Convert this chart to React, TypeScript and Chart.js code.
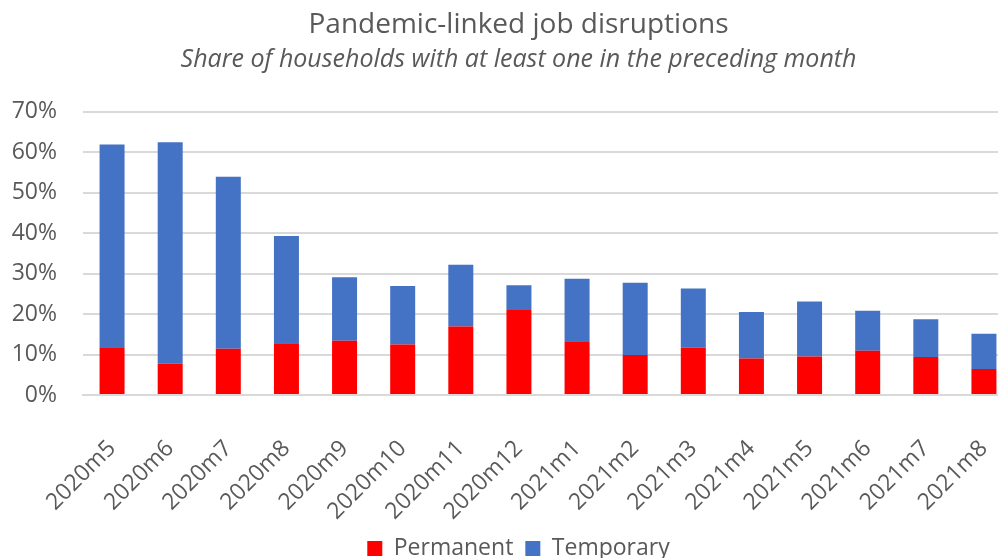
import React, { useEffect, useRef } from "react";
import { Chart, registerables } from "chart.js";

Chart.register(...registerables);

const categories = [
  "2020m5", "2020m6", "2020m7", "2020m8", "2020m9", "2020m10", "2020m11", "2020m12",
  "2021m1", "2021m2", "2021m3", "2021m4", "2021m5", "2021m6", "2021m7", "2021m8",
];

// Share of households (%) reporting a disruption, split by type
const permanent = [11.8, 7.7, 11.4, 12.8, 13.4, 12.5, 16.9, 21.0, 13.3, 9.9, 11.7, 9.0, 9.5, 10.9, 9.4, 6.4];
const temporary = [50.1, 54.7, 42.5, 26.5, 15.7, 14.4, 15.3, 6.1, 15.4, 17.8, 14.6, 11.5, 13.6, 9.9, 9.3, 8.7];

const yMax = 70;
const yStep = 10;

const textColor = "#595959";
const gridColor = "#D9D9D9";
const fontFamily = "'Open Sans', 'Noto Sans', sans-serif";

export default function App() {
  const canvasRef = useRef<HTMLCanvasElement | null>(null);

  useEffect(() => {
    if (!canvasRef.current) return;
    const chart = new Chart(canvasRef.current, {
      type: "bar",
      data: {
        labels: categories,
        datasets: [
          {
            label: "Permanent",
            data: permanent,
            backgroundColor: "#FF0000",
            barPercentage: 0.43,
            categoryPercentage: 1,
          },
          {
            label: "Temporary",
            data: temporary,
            backgroundColor: "#4472C4",
            barPercentage: 0.43,
            categoryPercentage: 1,
          },
        ],
      },
      options: {
        animation: false,
        responsive: true,
        maintainAspectRatio: false,
        layout: { padding: { left: 24, right: 23, top: 0, bottom: 0 } },
        plugins: {
          title: {
            display: true,
            text: "Pandemic-linked job disruptions",
            color: textColor,
            font: { family: fontFamily, size: 28, weight: "normal" },
            padding: { top: 8, bottom: 3 },
          },
          subtitle: {
            display: true,
            text: "Share of households with at least one in the preceding month",
            color: textColor,
            font: { family: fontFamily, size: 25, style: "italic", weight: "normal" },
            padding: { top: 0, bottom: 37 },
          },
          legend: {
            position: "bottom",
            labels: {
              color: textColor,
              font: { family: fontFamily, size: 23 },
              boxWidth: 15,
              boxHeight: 15,
              padding: 12,
            },
          },
          tooltip: { enabled: false },
        },
        scales: {
          x: {
            stacked: true,
            grid: { display: false, drawTicks: false },
            border: { color: gridColor, width: 2 },
            ticks: {
              color: textColor,
              font: { family: fontFamily, size: 23 },
              minRotation: 45,
              maxRotation: 45,
              padding: 40,
              autoSkip: false,
            },
            afterFit: (scale) => {
              scale.height = 130;
              scale.paddingLeft = 0;
              scale.paddingRight = 0;
            },
          },
          y: {
            stacked: true,
            min: 0,
            max: yMax,
            grid: { color: gridColor, lineWidth: 2, drawTicks: false },
            border: { display: false },
            ticks: {
              stepSize: yStep,
              color: textColor,
              font: { family: fontFamily, size: 23 },
              padding: 26,
              callback: (v) => `${v}%`,
            },
            afterFit: (scale: any) => {
              scale.width = 59;
              // let the percent labels extend left of the axis box
              scale._computeLabelArea = () => undefined;
            },
          },
        },
      },
    });
    return () => chart.destroy();
  }, []);

  return (
    <div style={{ position: "fixed", left: 0, top: 0, width: 998, height: 558, overflow: "hidden", background: "#fff" }}>
      <div style={{ position: "relative", width: 1036, height: 570 }}>
        <canvas ref={canvasRef} />
      </div>
    </div>
  );
}
